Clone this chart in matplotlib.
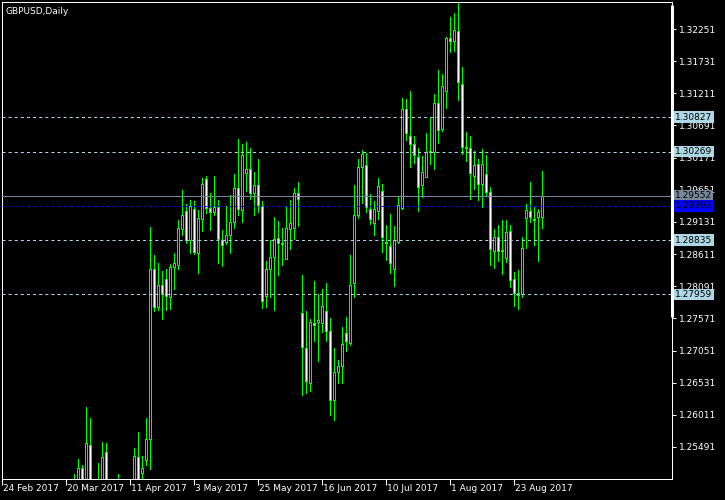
import matplotlib
matplotlib.use("Agg")
import matplotlib.pyplot as plt
from matplotlib.patches import Rectangle

plt.rcParams['lines.scale_dashes'] = False

title = "GBPUSD,Daily"

opens = [1.2490, 1.2465, 1.2410, 1.2405, 1.2290, 1.2270, 1.2300, 1.2230, 1.2215, 1.2170,
         1.2175, 1.2195, 1.2220, 1.2160, 1.2290, 1.2370, 1.2395, 1.2370, 1.2470, 1.2475,
         1.2515, 1.2470, 1.2552, 1.2480, 1.2440, 1.2470, 1.2541, 1.2470, 1.2440, 1.2480,
         1.2470, 1.2400, 1.2415, 1.2475, 1.2533, 1.2507, 1.2528, 1.2562, 1.2837, 1.2776,
         1.2811, 1.2821, 1.2792, 1.2840, 1.2843, 1.2902, 1.2931, 1.2884, 1.2934, 1.2863,
         1.2918, 1.2983, 1.2936, 1.2929, 1.2937, 1.2884, 1.2881, 1.2892, 1.2913, 1.2968,
         1.2932, 1.2992, 1.2999, 1.2960, 1.2973, 1.2939, 1.2793, 1.2837, 1.2856, 1.2887,
         1.2879, 1.2853, 1.2902, 1.2903, 1.2960, 1.2766, 1.2709, 1.2653, 1.2750, 1.2751,
         1.2750, 1.2769, 1.2737, 1.2625, 1.2670, 1.2680, 1.2733, 1.2717, 1.2814, 1.2924,
         1.3002, 1.3005, 1.2934, 1.2911, 1.2931, 1.2963, 1.2881, 1.2874, 1.2837, 1.2881,
         1.2936, 1.3096, 1.3052, 1.3039, 1.3018, 1.2973, 1.2986, 1.3026, 1.3026, 1.3105,
         1.3063, 1.3125, 1.3211, 1.3206, 1.3222, 1.3136, 1.3034, 1.3033, 1.2987, 1.3007,
         1.2974, 1.2991, 1.2961, 1.2866, 1.2889, 1.2866, 1.2855, 1.2898, 1.2821, 1.2798,
         1.2797, 1.2919, 1.2931, 1.2918, 1.2921, 1.2921]
highs = [1.2551, 1.2490, 1.2440, 1.2420, 1.2305, 1.2325, 1.2310, 1.2255, 1.2225, 1.2200,
         1.2225, 1.2255, 1.2235, 1.2300, 1.2395, 1.2410, 1.2405, 1.2475, 1.2505, 1.2530,
         1.2520, 1.2614, 1.2596, 1.2495, 1.2523, 1.2557, 1.2556, 1.2490, 1.2490, 1.2505,
         1.2485, 1.2430, 1.2495, 1.2547, 1.2573, 1.2535, 1.2596, 1.2905, 1.2860, 1.2847,
         1.2834, 1.2837, 1.2845, 1.2863, 1.2916, 1.2965, 1.2942, 1.2949, 1.2947, 1.2932,
         1.2984, 1.2987, 1.2960, 1.2987, 1.2949, 1.2900, 1.2939, 1.2957, 1.2991, 1.3047,
         1.3039, 1.3042, 1.3033, 1.2994, 1.3015, 1.2947, 1.2850, 1.2884, 1.2921, 1.2915,
         1.2903, 1.2939, 1.2949, 1.2968, 1.2978, 1.2827, 1.2769, 1.2756, 1.2818, 1.2797,
         1.2805, 1.2814, 1.2758, 1.2709, 1.2690, 1.2743, 1.2759, 1.2860, 1.2973, 1.3015,
         1.3029, 1.3025, 1.2958, 1.2947, 1.2984, 1.2974, 1.2908, 1.2926, 1.2907, 1.2953,
         1.3114, 1.3112, 1.3125, 1.3052, 1.3033, 1.3020, 1.3057, 1.3083, 1.3120, 1.3159,
         1.3152, 1.3212, 1.3245, 1.3251, 1.3267, 1.3164, 1.3059, 1.3052, 1.3028, 1.3015,
         1.3031, 1.3021, 1.2970, 1.2902, 1.2908, 1.2916, 1.2916, 1.2908, 1.2832, 1.2835,
         1.2889, 1.2942, 1.2978, 1.2937, 1.2934, 1.2995]
lows = [1.2430, 1.2385, 1.2380, 1.2280, 1.2250, 1.2240, 1.2215, 1.2195, 1.2150, 1.2135,
        1.2150, 1.2185, 1.2110, 1.2150, 1.2275, 1.2345, 1.2340, 1.2365, 1.2440, 1.2460,
        1.2455, 1.2460, 1.2475, 1.2380, 1.2420, 1.2450, 1.2440, 1.2420, 1.2410, 1.2440,
        1.2365, 1.2380, 1.2400, 1.2465, 1.2490, 1.2490, 1.2520, 1.2514, 1.2769, 1.2771,
        1.2756, 1.2771, 1.2772, 1.2805, 1.2837, 1.2892, 1.2879, 1.2863, 1.2862, 1.2830,
        1.2898, 1.2928, 1.2900, 1.2924, 1.2847, 1.2842, 1.2877, 1.2863, 1.2903, 1.2924,
        1.2913, 1.2963, 1.2950, 1.2924, 1.2929, 1.2774, 1.2776, 1.2792, 1.2771, 1.2827,
        1.2843, 1.2853, 1.2869, 1.2886, 1.2907, 1.2633, 1.2636, 1.2640, 1.2720, 1.2688,
        1.2735, 1.2720, 1.2601, 1.2593, 1.2653, 1.2653, 1.2704, 1.2714, 1.2792, 1.2919,
        1.2944, 1.2929, 1.2910, 1.2892, 1.2918, 1.2864, 1.2852, 1.2830, 1.2809, 1.2879,
        1.2934, 1.3046, 1.3002, 1.3008, 1.2931, 1.2953, 1.2986, 1.3007, 1.2999, 1.3041,
        1.3060, 1.3097, 1.3188, 1.3190, 1.3110, 1.3023, 1.3012, 1.2950, 1.2966, 1.2949,
        1.2937, 1.2957, 1.2843, 1.2839, 1.2850, 1.2829, 1.2848, 1.2808, 1.2777, 1.2772,
        1.2792, 1.2871, 1.2913, 1.2876, 1.2850, 1.2903]
closes = [1.2465, 1.2410, 1.2405, 1.2290, 1.2270, 1.2300, 1.2230, 1.2215, 1.2170, 1.2175,
          1.2195, 1.2220, 1.2160, 1.2290, 1.2370, 1.2395, 1.2370, 1.2470, 1.2475, 1.2515,
          1.2470, 1.2556, 1.2480, 1.2440, 1.2470, 1.2533, 1.2470, 1.2440, 1.2480, 1.2470,
          1.2400, 1.2415, 1.2475, 1.2535, 1.2497, 1.2515, 1.2562, 1.2837, 1.2776, 1.2811,
          1.2798, 1.2793, 1.2840, 1.2847, 1.2903, 1.2924, 1.2884, 1.2939, 1.2864, 1.2919,
          1.2974, 1.2936, 1.2929, 1.2937, 1.2886, 1.2876, 1.2892, 1.2913, 1.2968, 1.2934,
          1.3021, 1.2999, 1.2960, 1.2973, 1.2940, 1.2785, 1.2837, 1.2856, 1.2886, 1.2879,
          1.2877, 1.2903, 1.2911, 1.2960, 1.2950, 1.2711, 1.2656, 1.2751, 1.2746, 1.2754,
          1.2777, 1.2737, 1.2625, 1.2670, 1.2680, 1.2716, 1.2720, 1.2811, 1.2924, 1.3002,
          1.3023, 1.2937, 1.2918, 1.2934, 1.2971, 1.2889, 1.2879, 1.2847, 1.2884, 1.2940,
          1.3096, 1.3057, 1.3039, 1.3021, 1.2970, 1.2994, 1.3026, 1.3028, 1.3105, 1.3062,
          1.3133, 1.3211, 1.3206, 1.3224, 1.3139, 1.3034, 1.3033, 1.2992, 1.3005, 1.2974,
          1.3007, 1.2961, 1.2869, 1.2889, 1.2866, 1.2868, 1.2897, 1.2819, 1.2798, 1.2795,
          1.2871, 1.2932, 1.2921, 1.2916, 1.2929, 1.29552]

price_ticks = [1.32251, 1.31731, 1.31211, 1.30691, 1.30171, 1.29651, 1.29131,
               1.28611, 1.28091, 1.27571, 1.27051, 1.26531, 1.26011, 1.25491]
date_tick_bars = [0, 16, 32, 48, 64, 80, 96, 112, 128]
date_tick_labels = ["24 Feb 2017", "20 Mar 2017", "11 Apr 2017", "3 May 2017",
                    "25 May 2017", "16 Jun 2017", "10 Jul 2017", "1 Aug 2017", "23 Aug 2017"]
hlevels = [1.30827, 1.30269, 1.28835, 1.27959]
bid_level = 1.29552
blue_level = 1.29393

W, H = 725, 500
fig = plt.figure(figsize=(W / 100, H / 100), dpi=100, facecolor="black")
ax = fig.add_axes([2 / W, 21 / H, 670 / W, 477 / H], facecolor="black")
ax.set_xlim(0, 167.5)
ax.set_ylim(1.24973, 1.32688)

px = 0.72  # one pixel in points
green = "#00FF00"

for i in range(len(opens)):
    o, h, l, c = opens[i], highs[i], lows[i], closes[i]
    ax.vlines(i, l, h, color=green, lw=px, zorder=2, antialiased=False)
    bottom = min(o, c)
    height = abs(c - o)
    face = "black" if c >= o else "white"
    ax.add_patch(Rectangle((i - 0.25, bottom), 0.5, height, facecolor=face,
                           edgecolor=green, lw=px, zorder=3, antialiased=False))

for lv in hlevels:
    ax.axhline(lv, color="#ADD8E6", lw=px, dashes=(2.2, 2.2), zorder=4)
ax.axhline(bid_level, color="#778899", lw=px, zorder=4)
ax.axhline(blue_level, color="#0000FF", lw=px, dashes=(2.2, 2.2), zorder=4)

for s in ax.spines.values():
    s.set_color("white")
    s.set_linewidth(px)

ax.yaxis.tick_right()
ax.set_yticks(price_ticks)
ax.set_yticklabels([f"{v:.5f}" for v in price_ticks])
ax.tick_params(axis="y", colors="white", labelsize=6.5, length=3, width=px, pad=2)
ax.set_xticks(date_tick_bars)
ax.set_xticklabels([])
ax.tick_params(axis="x", colors="white", length=4, width=px)

ytr = ax.get_yaxis_transform()
xtr = ax.get_xaxis_transform()
for lbl_i, lbl in zip(date_tick_bars, date_tick_labels):
    ax.text(lbl_i + 0.25, -0.011, lbl, transform=xtr, color="white", fontsize=6.5,
            ha="left", va="top", clip_on=False)

def price_box(val, bg, fg="black"):
    ax.text(1.0045, val, f"{val:.5f}", transform=ytr, color=fg, fontsize=6.5,
            ha="left", va="center", clip_on=False, zorder=10,
            bbox=dict(boxstyle="square,pad=0.15", facecolor=bg, edgecolor="none"))

for lv in hlevels:
    price_box(lv, "#ADD8E6")
price_box(bid_level, "#778899")
price_box(blue_level, "#0000FF")

# thick segment on price scale
ax.plot([1.0, 1.0], [1.0 - 3 / 477, 1.0 - 315 / 477], transform=ax.transAxes,
        color="white", lw=2.2, clip_on=False, solid_capstyle="butt", zorder=5)

ax.text(0.005, 0.99, title, transform=ax.transAxes, color="white", fontsize=6.5,
        ha="left", va="top")

fig.savefig("out.png", dpi=100, facecolor="black")
